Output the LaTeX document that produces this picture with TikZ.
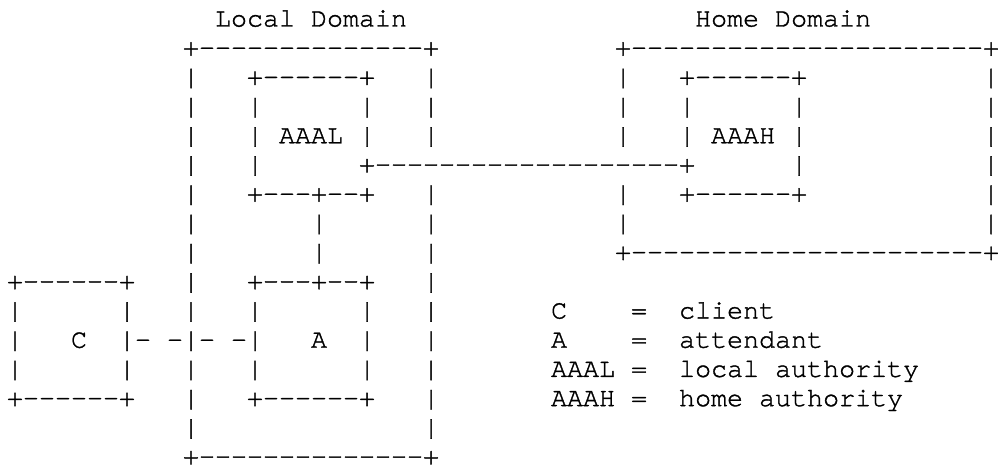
\documentclass[tikz,border=0pt]{standalone}
\usepackage{fontspec}
% Courier-style typewriter face, slightly emboldened
\setmonofont{texgyrecursor-regular.otf}[FakeBold=1.3]
\begin{document}
\begin{tikzpicture}[x=1pt,y=-1pt,
  asciirow/.style={anchor=base west, inner sep=0pt, outer sep=0pt,
    font=\fontsize{26.67}{29.2}\selectfont\ttfamily}]
\fill[white] (0,0) rectangle (998,465);
\useasboundingbox (0,0) rectangle (998,465);
% left edge of column 0; rows are 29.2pt apart
\def\lx{7}
\node[asciirow] (row01) at (\lx, 26.5) {\verb!             Local Domain                  Home Domain!};
\node[asciirow] (row02) at (\lx, 55.7) {\verb!           +--------------+           +----------------------+!};
\node[asciirow] (row03) at (\lx, 84.9) {\verb!           |   +------+   |           |   +------+           |!};
\node[asciirow] (row04) at (\lx,114.1) {\verb!           |   |      |   |           |   |      |           |!};
\node[asciirow] (row05) at (\lx,143.3) {\verb!           |   | AAAL |   |           |   | AAAH |           |!};
\node[asciirow] (row06) at (\lx,172.5) {\verb!           |   |      +-------------------+      |           |!};
\node[asciirow] (row07) at (\lx,201.7) {\verb!           |   +---+--+   |           |   +------+           |!};
\node[asciirow] (row08) at (\lx,230.9) {\verb!           |       |      |           |                      |!};
\node[asciirow] (row09) at (\lx,260.1) {\verb!           |       |      |           +----------------------+!};
\node[asciirow] (row10) at (\lx,289.3) {\verb!+------+   |   +---+--+   |!};
\node[asciirow] (row11) at (\lx,318.5) {\verb!|      |   |   |      |   |       C    =  client!};
\node[asciirow] (row12) at (\lx,347.7) {\verb!|   C  |- -|- -|   A  |   |       A    =  attendant!};
\node[asciirow] (row13) at (\lx,376.9) {\verb!|      |   |   |      |   |       AAAL =  local authority!};
\node[asciirow] (row14) at (\lx,406.1) {\verb!+------+   |   +------+   |       AAAH =  home authority!};
\node[asciirow] (row15) at (\lx,435.3) {\verb!           |              |!};
\node[asciirow] (row16) at (\lx,464.5) {\verb!           +--------------+!};
\end{tikzpicture}
\end{document}
